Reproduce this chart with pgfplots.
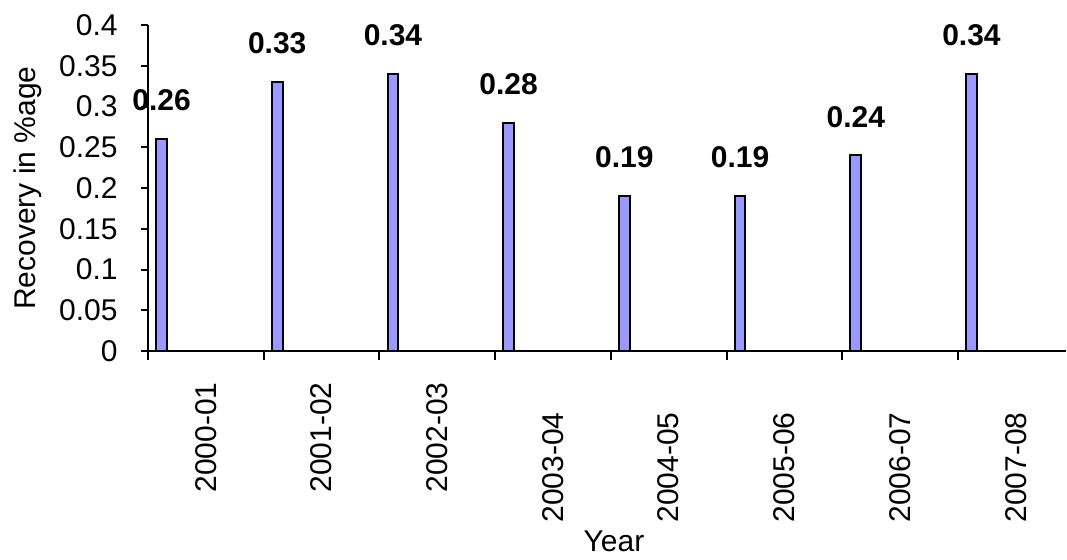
\documentclass[border=0pt]{standalone}
\usepackage{fontspec}
\setmainfont{Liberation Sans}
\usepackage{pgfplots}
\pgfplotsset{compat=1.18}
\definecolor{barfill}{HTML}{9999FF}

% bar positions sit slightly right of each category boundary
\pgfplotstableread{
x      y
0.117  0.26
1.117  0.33
2.117  0.34
3.117  0.28
4.117  0.19
5.117  0.19
6.117  0.24
7.117  0.34
}\recovery

\begin{document}
\begin{tikzpicture}
\useasboundingbox (-74pt,-104pt) rectangle (459.5pt,175.5pt);
\begin{axis}[
  scale only axis,
  width=459pt, height=163pt,
  xmin=0, xmax=7.934, ymin=0, ymax=0.4,
  axis lines*=left,
  axis line style={line width=1pt},
  tick align=outside,
  major tick length=3.5pt,
  minor tick length=4.5pt,
  tick style={line width=1pt, black},
  every major x tick/.append style={draw=none},
  xtick={0.5,1.5,...,7.5},
  minor xtick={0,1,...,7},
  xticklabels={2000-01,2001-02,2002-03,
    2003-04\hspace*{15pt},2004-05\hspace*{15pt},2005-06\hspace*{15pt},
    2006-07\hspace*{15pt},2007-08\hspace*{15pt}},
  xticklabel style={yshift=-12pt, rotate=90, anchor=east, inner sep=0pt,
    font=\fontsize{15}{18}\selectfont},
  ytick={0,0.05,0.1,0.15,0.2,0.25,0.3,0.35,0.4},
  yticklabels={0,0.05,0.1,0.15,0.2,0.25,0.3,0.35,0.4},
  yticklabel style={xshift=-11.5pt, anchor=east, inner sep=0pt,
    font=\fontsize{15}{18}\selectfont},
  ylabel={Recovery in \%age},
  ylabel style={at={(axis description cs:0,0.5)}, anchor=center,
    yshift=60pt, font=\fontsize{15}{18}\selectfont},
  xlabel={Year},
  xlabel style={at={(axis description cs:0.5076,0)}, anchor=north,
    inner sep=0pt, yshift=-89.5pt, font=\fontsize{15}{18}\selectfont},
  /pgf/number format/assume math mode=true,
  nodes near coords={\pgfmathprintnumber[fixed,precision=2]{\pgfplotspointmeta}},
  every node near coord/.append style={anchor=south, inner sep=0pt,
    yshift=13.5pt, font=\fontsize{15}{18}\selectfont\bfseries},
]
\addplot[ybar, bar width=0.092, bar shift=0pt, fill=barfill, draw=black,
  line width=1pt] table[x=x, y=y] {\recovery};
\end{axis}
\end{tikzpicture}
\end{document}
